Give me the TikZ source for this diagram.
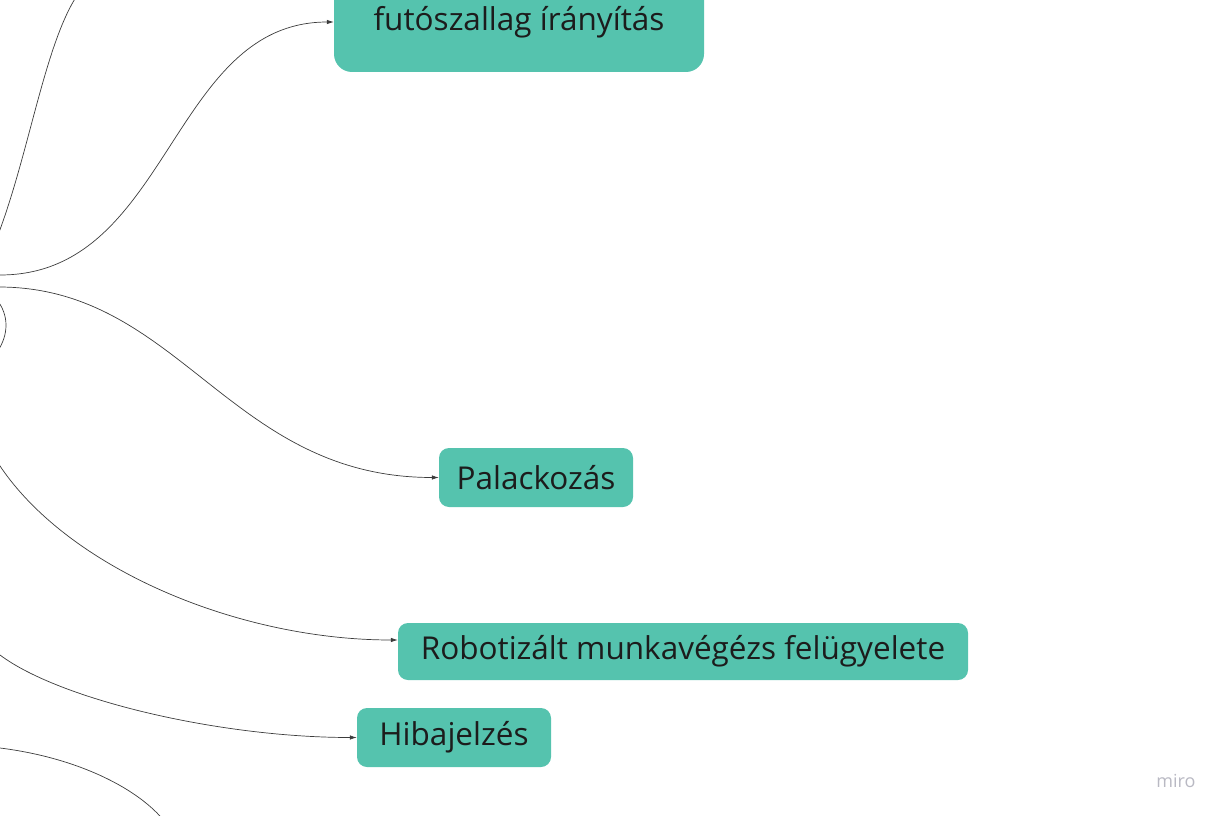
\documentclass[tikz,border=0pt]{standalone}
\usepackage{fontspec}
\setmainfont{Open Sans}
\usetikzlibrary{arrows.meta,positioning}
\definecolor{topicgreen}{RGB}{85,195,174}
\definecolor{inktext}{RGB}{28,28,28}
\definecolor{linkgray}{RGB}{60,60,60}
\definecolor{logogray}{RGB}{185,185,195}
\tikzset{
	topic/.style={
		rectangle,
		rounded corners=10pt,
		fill=topicgreen,
		text=inktext,
		minimum height=59pt,
		inner sep=2pt,
		text centered,
		font=\fontsize{31.5}{36}\selectfont,
	},
	link/.style={
		draw=linkgray, line width=0.7pt,
		-{Latex[length=7pt,width=4.5pt]},
	},
	linkplain/.style={
		draw=linkgray, line width=0.7pt,
	},
}

\begin{document}
\begin{tikzpicture}[x=1pt,y=-1pt]
\useasboundingbox (0,0) rectangle (1224,816);
\clip (0,0) rectangle (1224,816);

\node	(conveyor)	[topic, minimum width=370pt, minimum height=100pt, rounded corners=18pt]	at (519,22)	{futószallag írányítás};
\node	(bottling)	[topic, minimum width=194pt]	at (536,477.5)	{Palackozás};
\node	(robots)	[topic, minimum width=570pt, minimum height=57pt]	at (683,651.5)	{Robotizált munkavégézs felügyelete};
\node	(alerts)	[topic, minimum width=194pt]	at (454,737.5)	{Hibajelzés};
\node	(logo)	[text=logogray, font=\fontsize{18}{20}\selectfont]	at (1176,781)	{miro};

% free ends, the hub lies left of the view
\coordinate (hub-up)	at (-8,250);
\coordinate (up-end)	at (85,-15);
\coordinate (hub-conveyor)	at (0,275);
\coordinate (hub-bottling)	at (0,287);
\coordinate (hub-robots)	at (-3,300);
\coordinate (hub-alerts)	at (0,655);
\coordinate (hub-down)	at (0,748);
\coordinate (down-end)	at (165,822);

\draw[linkplain] (hub-up) .. controls (30,160) and (45,30) .. (up-end);
\draw[link] (hub-conveyor) .. controls (170,275) and (170,22) .. (conveyor.west);
\draw[link] (hub-bottling) .. controls (180,288) and (230,477.5) .. (bottling.west);
\draw[link] (hub-robots) .. controls (9,315) and (9,335) .. (-3,352)
	.. controls (-15,369) and (-20,436) .. (0,466)
	.. controls (70,570) and (240,640) .. ([yshift=11.5pt]robots.west);
\draw[link] (hub-alerts) .. controls (60,700) and (220,737.5) .. (alerts.west);
\draw[linkplain] (hub-down) .. controls (80,758) and (140,790) .. (down-end);

\end{tikzpicture}
\end{document}
